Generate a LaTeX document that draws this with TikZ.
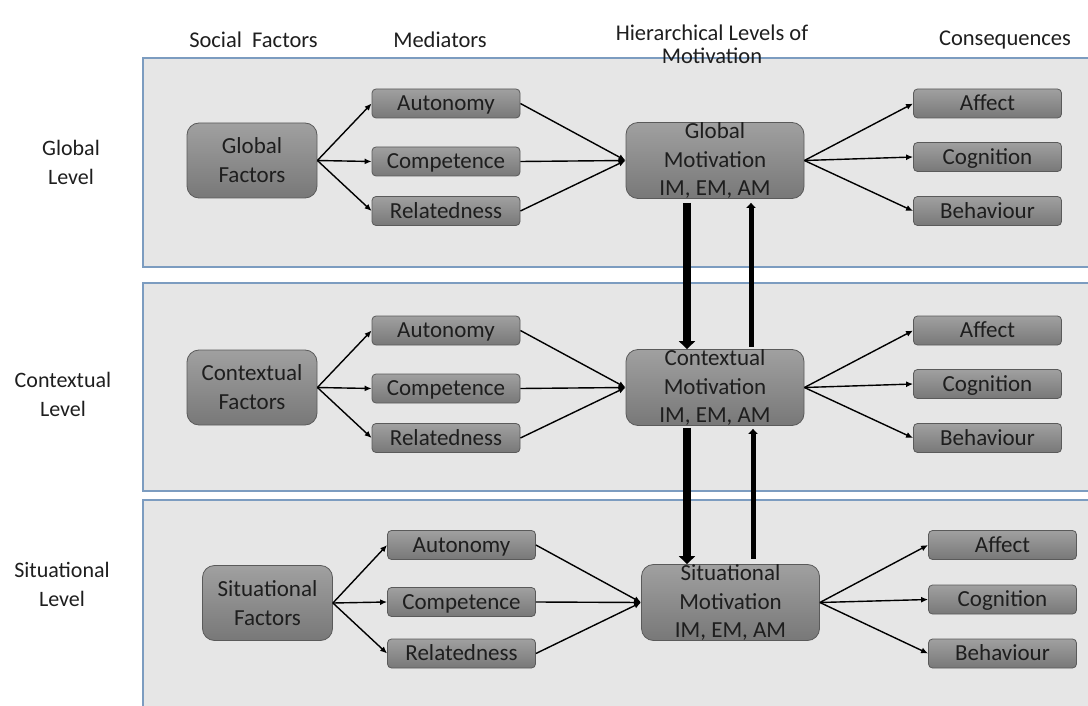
\documentclass[tikz,border=0pt]{standalone}
\usepackage{fontspec}
\setmainfont{Carlito}
\usetikzlibrary{arrows.meta}

\definecolor{panelfill}{HTML}{E6E6E6}
\definecolor{panelline}{HTML}{7C9CC0}
\definecolor{boxline}{HTML}{5A5A5A}
\definecolor{boxtop}{HTML}{A0A0A0}
\definecolor{boxbot}{HTML}{787878}
\definecolor{txt}{HTML}{1E1E1E}

\begin{document}
\begin{tikzpicture}[x=1pt,y=-1pt,
  panel/.style={fill=panelfill,draw=panelline,line width=1.5pt},
  boxbase/.style={draw=boxline,line width=0.8pt,top color=boxtop,bottom color=boxbot,
    text=txt,align=center,inner sep=0pt},
  medbox/.style={boxbase,minimum width=148pt,minimum height=29pt,rounded corners=4pt,
    font=\fontsize{23}{28}\selectfont,text height=17pt,text depth=2.5pt},
  factbox/.style={boxbase,rounded corners=12pt,minimum width=130pt,minimum height=75pt,
    font=\fontsize{23}{29}\selectfont},
  motbox/.style={boxbase,rounded corners=12pt,minimum width=178pt,minimum height=76pt},
  mottext/.style={text=txt,align=center,inner sep=0pt,font=\fontsize{23}{28.5}\selectfont},
  head/.style={text=txt,align=center,font=\fontsize{22.5}{23}\selectfont},
  levlabel/.style={text=txt,align=center,font=\fontsize{22}{29}\selectfont},
  link/.style={line width=1.4pt,-{Latex[length=7pt,width=6pt]}},
  downlink/.style={line width=8pt,-{Triangle[length=8pt,width=16pt]}},
  uplink/.style={line width=5pt,-{Triangle[length=5pt,width=9pt]}}
]
\useasboundingbox (0,0) rectangle (1088,706);
\clip (0,0) rectangle (1088,706);

% level panels
\draw[panel] (143,58) rectangle (1095,267);
\draw[panel] (143,283) rectangle (1095,491);
\draw[panel] (143,500) rectangle (1095,715);

% column headings
\node[head] (hsoc) at (253.5,40) {Social\ \ Factors};
\node[head] (hmed) at (440,40) {Mediators};
\node[head] (hhier) at (712,44) {Hierarchical Levels of\\Motivation};
\node[head] (hcons) at (1005,40) {Consequences};

% level labels
\node[levlabel] (lglob) at (71,162) {Global\\Level};
\node[levlabel] (lcont) at (63,394) {Contextual\\Level};
\node[levlabel] (lsit) at (62,584) {Situational\\Level};

% global level
\node[factbox] (gf) at (252,160.5) {Global\\Factors};
\node[medbox] (ga) at (446,103.5) {Autonomy};
\node[medbox] (gc) at (446,161.5) {Competence};
\node[medbox] (gr) at (446,211) {Relatedness};
\node[motbox] (gm) at (715,160.5) {};
\node[mottext] (gmt) at (gm.center) {Global\\Motivation\\IM, EM, AM};
\node[medbox] (gaf) at (987.5,103.5) {Affect};
\node[medbox] (gco) at (987.5,157) {Cognition};
\node[medbox] (gbe) at (987.5,211) {Behaviour};

% contextual level
\node[factbox] (cf) at (252,387.5) {Contextual\\Factors};
\node[medbox] (ca) at (446,330.5) {Autonomy};
\node[medbox] (cc) at (446,388.5) {Competence};
\node[medbox] (cr) at (446,438) {Relatedness};
\node[motbox] (cm) at (715,387.5) {};
\node[mottext] (cmt) at (cm.center) {Contextual\\Motivation\\IM, EM, AM};
\node[medbox] (caf) at (987.5,330.5) {Affect};
\node[medbox] (cco) at (987.5,384) {Cognition};
\node[medbox] (cbe) at (987.5,438) {Behaviour};

% situational level
\node[factbox] (sf) at (267.5,603) {Situational\\Factors};
\node[medbox] (sa) at (461.5,545) {Autonomy};
\node[medbox] (sc) at (461.5,602) {Competence};
\node[medbox] (sr) at (461.5,653.5) {Relatedness};
\node[motbox] (sm) at (730.5,602.5) {};
\node[mottext] (smt) at (sm.center) {Situational\\Motivation\\IM, EM, AM};
\node[medbox] (saf) at (1002.5,545) {Affect};
\node[medbox] (sco) at (1002.5,599.5) {Cognition};
\node[medbox] (sbe) at (1002.5,653.5) {Behaviour};

% connectors within each level
\foreach \p in {g,c,s}{
  \foreach \m in {a,c,r}{
    \draw[link] (\p f.east) -- (\p\m.west);
    \draw[link] (\p\m.east) -- (\p m.west);
  }
  \foreach \q in {af,co,be}{
    \draw[link] (\p m.east) -- (\p\q.west);
  }
}

% top-down and bottom-up links between levels
\draw[downlink] ([xshift=-28pt,yshift=-4pt]gm.south) -- ([xshift=-28pt]gm.south |- cm.north);
\draw[uplink] ([xshift=36pt,yshift=2pt]gm.south |- cm.north) -- ([xshift=36pt,yshift=-4pt]gm.south);
\draw[downlink] ([xshift=-28pt,yshift=-2pt]cm.south) -- ([xshift=-28pt]cm.south |- sm.north);
\draw[uplink] ([xshift=38pt,yshift=5pt]cm.south |- sm.north) -- ([xshift=38pt,yshift=-3pt]cm.south);
\end{tikzpicture}
\end{document}
